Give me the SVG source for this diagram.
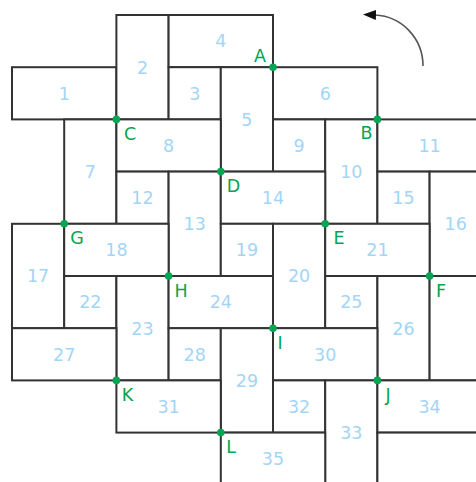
<svg xmlns="http://www.w3.org/2000/svg" width="476" height="482" viewBox="0 0 476 482">
<style>
.t{fill:#ffffff;stroke:#333333;stroke-width:2}
.n{font-family:"DejaVu Sans",sans-serif;font-size:17.5px;fill:#a3d5f7;text-anchor:middle}
.p{fill:#00a651}
.l{font-family:"DejaVu Sans",sans-serif;font-size:17.5px;fill:#00a651;text-anchor:middle}
.arc{fill:none;stroke:#555555;stroke-width:1.6}
</style>
<defs>
<marker id="ah" viewBox="0 0 13 10" refX="1" refY="5" markerWidth="13" markerHeight="10" orient="auto" markerUnits="userSpaceOnUse">
<path d="M0,0 L13,5 L0,10 z" fill="#111111"/>
</marker>
</defs>
<rect width="476" height="482" fill="#ffffff"/>
<g id="tiles">
<g id="t1"><rect class="t" x="12" y="67.2" width="104.4" height="52.2"/><text class="n" x="64.2" y="99.6">1</text></g>
<g id="t2"><rect class="t" x="116.4" y="15" width="52.2" height="104.4"/><text class="n" x="142.5" y="73.5">2</text></g>
<g id="t4"><rect class="t" x="168.6" y="15" width="104.4" height="52.2"/><text class="n" x="220.8" y="47.4">4</text></g>
<g id="t3"><rect class="t" x="168.6" y="67.2" width="52.2" height="52.2"/><text class="n" x="194.7" y="99.6">3</text></g>
<g id="t5"><rect class="t" x="220.8" y="67.2" width="52.2" height="104.4"/><text class="n" x="246.9" y="125.7">5</text></g>
<g id="t6"><rect class="t" x="273" y="67.2" width="104.4" height="52.2"/><text class="n" x="325.2" y="99.6">6</text></g>
<g id="t7"><rect class="t" x="64.2" y="119.4" width="52.2" height="104.4"/><text class="n" x="90.3" y="177.9">7</text></g>
<g id="t8"><rect class="t" x="116.4" y="119.4" width="104.4" height="52.2"/><text class="n" x="168.6" y="151.8">8</text></g>
<g id="t9"><rect class="t" x="273" y="119.4" width="52.2" height="52.2"/><text class="n" x="299.1" y="151.8">9</text></g>
<g id="t10"><rect class="t" x="325.2" y="119.4" width="52.2" height="104.4"/><text class="n" x="351.3" y="177.9">10</text></g>
<g id="t11"><rect class="t" x="377.4" y="119.4" width="104.4" height="52.2"/><text class="n" x="429.6" y="151.8">11</text></g>
<g id="t12"><rect class="t" x="116.4" y="171.6" width="52.2" height="52.2"/><text class="n" x="142.5" y="204">12</text></g>
<g id="t13"><rect class="t" x="168.6" y="171.6" width="52.2" height="104.4"/><text class="n" x="194.7" y="230.1">13</text></g>
<g id="t14"><rect class="t" x="220.8" y="171.6" width="104.4" height="52.2"/><text class="n" x="273" y="204">14</text></g>
<g id="t15"><rect class="t" x="377.4" y="171.6" width="52.2" height="52.2"/><text class="n" x="403.5" y="204">15</text></g>
<g id="t16"><rect class="t" x="429.6" y="171.6" width="52.2" height="104.4"/><text class="n" x="455.7" y="230.1">16</text></g>
<g id="t17"><rect class="t" x="12" y="223.8" width="52.2" height="104.4"/><text class="n" x="38.1" y="282.3">17</text></g>
<g id="t18"><rect class="t" x="64.2" y="223.8" width="104.4" height="52.2"/><text class="n" x="116.4" y="256.2">18</text></g>
<g id="t19"><rect class="t" x="220.8" y="223.8" width="52.2" height="52.2"/><text class="n" x="246.9" y="256.2">19</text></g>
<g id="t20"><rect class="t" x="273" y="223.8" width="52.2" height="104.4"/><text class="n" x="299.1" y="282.3">20</text></g>
<g id="t21"><rect class="t" x="325.2" y="223.8" width="104.4" height="52.2"/><text class="n" x="377.4" y="256.2">21</text></g>
<g id="t22"><rect class="t" x="64.2" y="276" width="52.2" height="52.2"/><text class="n" x="90.3" y="308.4">22</text></g>
<g id="t23"><rect class="t" x="116.4" y="276" width="52.2" height="104.4"/><text class="n" x="142.5" y="334.5">23</text></g>
<g id="t24"><rect class="t" x="168.6" y="276" width="104.4" height="52.2"/><text class="n" x="220.8" y="308.4">24</text></g>
<g id="t25"><rect class="t" x="325.2" y="276" width="52.2" height="52.2"/><text class="n" x="351.3" y="308.4">25</text></g>
<g id="t26"><rect class="t" x="377.4" y="276" width="52.2" height="104.4"/><text class="n" x="403.5" y="334.5">26</text></g>
<g id="t26b"><rect class="t" x="429.6" y="276" width="52.2" height="104.4"/></g>
<g id="t27"><rect class="t" x="12" y="328.2" width="104.4" height="52.2"/><text class="n" x="64.2" y="360.6">27</text></g>
<g id="t28"><rect class="t" x="168.6" y="328.2" width="52.2" height="52.2"/><text class="n" x="194.7" y="360.6">28</text></g>
<g id="t29"><rect class="t" x="220.8" y="328.2" width="52.2" height="104.4"/><text class="n" x="246.9" y="386.7">29</text></g>
<g id="t30"><rect class="t" x="273" y="328.2" width="104.4" height="52.2"/><text class="n" x="325.2" y="360.6">30</text></g>
<g id="t31"><rect class="t" x="116.4" y="380.4" width="104.4" height="52.2"/><text class="n" x="168.6" y="412.8">31</text></g>
<g id="t32"><rect class="t" x="273" y="380.4" width="52.2" height="52.2"/><text class="n" x="299.1" y="412.8">32</text></g>
<g id="t33"><rect class="t" x="325.2" y="380.4" width="52.2" height="104.4"/><text class="n" x="351.3" y="438.9">33</text></g>
<g id="t34"><rect class="t" x="377.4" y="380.4" width="104.4" height="52.2"/><text class="n" x="429.6" y="412.8">34</text></g>
<g id="t35"><rect class="t" x="220.8" y="432.6" width="104.4" height="52.2"/><text class="n" x="273" y="465">35</text></g>
<g id="t36"><rect class="t" x="377.4" y="432.6" width="104.4" height="52.2"/></g>
</g>
<g id="connectors">
<path class="arc" d="M423,66 A50,51 0 0 0 375,15" marker-end="url(#ah)"/>
</g>
<g id="points">
<g id="pA"><circle class="p" cx="273" cy="67.2" r="3.8"/><text class="l" x="260" y="62">A</text></g>
<g id="pB"><circle class="p" cx="377.4" cy="119.4" r="3.8"/><text class="l" x="366.5" y="139">B</text></g>
<g id="pC"><circle class="p" cx="116.4" cy="119.4" r="3.8"/><text class="l" x="130" y="140">C</text></g>
<g id="pD"><circle class="p" cx="220.8" cy="171.6" r="3.8"/><text class="l" x="233.5" y="192">D</text></g>
<g id="pE"><circle class="p" cx="325.2" cy="223.8" r="3.8"/><text class="l" x="339" y="243.5">E</text></g>
<g id="pF"><circle class="p" cx="429.6" cy="276" r="3.8"/><text class="l" x="441" y="296.5">F</text></g>
<g id="pG"><circle class="p" cx="64.2" cy="223.8" r="3.8"/><text class="l" x="77" y="244">G</text></g>
<g id="pH"><circle class="p" cx="168.6" cy="276" r="3.8"/><text class="l" x="181" y="296.5">H</text></g>
<g id="pI"><circle class="p" cx="273" cy="328.2" r="3.8"/><text class="l" x="280" y="348.5">I</text></g>
<g id="pJ"><circle class="p" cx="377.4" cy="380.4" r="3.8"/><text class="l" x="388" y="400.5">J</text></g>
<g id="pK"><circle class="p" cx="116.4" cy="380.4" r="3.8"/><text class="l" x="127.5" y="400.5">K</text></g>
<g id="pL"><circle class="p" cx="220.8" cy="432.6" r="3.8"/><text class="l" x="231" y="452.5">L</text></g>
</g>
</svg>
